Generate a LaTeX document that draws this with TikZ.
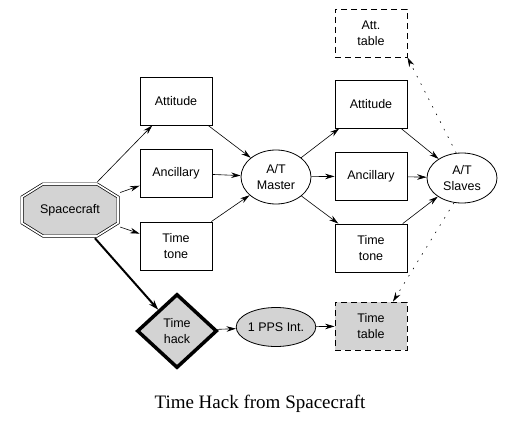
\documentclass[tikz,border=0pt]{standalone}
\usepackage{fontspec}
\setmainfont{Liberation Sans}
\newfontfamily\capfont{Liberation Serif}
\usetikzlibrary{arrows.meta,shapes.geometric}
\definecolor{boxgray}{RGB}{211,211,211}
\begin{document}
\begin{tikzpicture}[x=1pt,y=1pt,
  txt/.style={font=\fontsize{12.5}{16}\selectfont, align=center},
  box/.style={txt, draw, line width=0.8pt, minimum width=72pt, minimum height=48pt, inner sep=0pt},
  dbox/.style={box, dash pattern=on 6pt off 4pt},
  ell/.style={txt, draw, ellipse, line width=0.8pt, inner sep=0pt},
  conn/.style={-{Stealth[length=9.5pt,width=5.5pt]}, line width=0.6pt},
  dots/.style={conn, dash pattern=on 1.5pt off 7pt},
  thickconn/.style={-{Stealth[length=10pt,width=6.5pt]}, line width=2pt}
]
\useasboundingbox (0,0) rectangle (516,-425);

% Spacecraft octagon (double border)
\begin{scope}[shift={(70,-210)}]
  \draw[fill=boxgray, draw=black, double=white, double distance=1.6pt, line width=0.7pt]
    (-27,26) -- (27,26) -- (48,13) -- (48,-13) -- (27,-26) -- (-27,-26) -- (-48,-13) -- (-48,13) -- cycle;
\end{scope}
\node[txt, minimum width=100pt, minimum height=56pt, inner sep=0pt] (sc) at (70,-210) {Spacecraft};

% left column
\node[box] (att1) at (176,-101) {Attitude};
\node[box] (anc1) at (176,-173) {Ancillary};
\node[box] (tt1)  at (176,-246) {Time\\tone};

% master
\node[ell, minimum width=70pt, minimum height=54pt] (master) at (276,-177) {A/T\\Master};

% right column
\node[dbox] (atttab) at (371,-33) {Att.\\table};
\node[box] (att2) at (371,-104) {Attitude};
\node[box] (anc2) at (371,-176) {Ancillary};
\node[box] (tt2)  at (371,-248) {Time\\tone};
\node[dbox, fill=boxgray] (ttab) at (371,-326) {Time\\table};

% slaves
\node[ell, minimum width=70pt, minimum height=50pt] (slaves) at (462,-178) {A/T\\Slaves};

% time hack and pps
\node[txt, draw, diamond, line width=3.5pt, fill=boxgray, inner sep=0pt, minimum width=80pt, minimum height=74pt] (hack) at (177,-331) {Time\\hack};
\node[ell, fill=boxgray, minimum width=79pt, minimum height=39pt] (pps) at (276,-327) {1 PPS Int.};

% caption
\node[font=\capfont\fontsize{19}{23}\selectfont] (cap) at (260,-404) {Time Hack from Spacecraft};

% connectors
\draw[conn] (sc) -- (att1);
\draw[conn] (sc) -- (anc1);
\draw[conn] (sc) -- (tt1);
\draw[thickconn] (sc) -- (hack);

\draw[conn] (att1) -- (master);
\draw[conn] (anc1) -- (master);
\draw[conn] (tt1) -- (master);

\draw[conn] (master) -- (att2);
\draw[conn] (master) -- (anc2);
\draw[conn] (master) -- (tt2);

\draw[conn] (att2) -- (slaves);
\draw[conn] (anc2) -- (slaves);
\draw[conn] (tt2) -- (slaves);

\draw[dots] (slaves.103) -- (atttab.south east);
\draw[dots] (slaves.252) -- (ttab.48);

\draw[conn] (hack) -- (pps);
\draw[conn] (pps) -- (ttab);
\end{tikzpicture}
\end{document}
